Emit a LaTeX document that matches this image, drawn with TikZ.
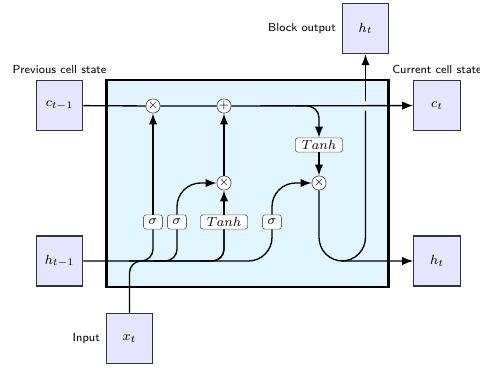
\documentclass[tikz,border=0pt]{standalone}
\usetikzlibrary{arrows.meta}
\begin{document}
\begin{tikzpicture}[x=0.02114cm, y=-0.02114cm,
  >=Latex,
  font=\footnotesize,
  cellbox/.style={rectangle, draw=black, line width=1.3pt, fill=cyan!12},
  op/.style={circle, draw=black!70, fill=white, inner sep=0pt, minimum size=0.3cm, font=\scriptsize},
  gatebox/.style={rectangle, rounded corners=1.5pt, draw=black!60, fill=white, minimum width=4mm, minimum height=3mm, inner sep=1pt},
  iobox/.style={rectangle, draw=black!80, line width=0.75pt, fill=blue!10, minimum width=0.98cm, minimum height=1.06cm, inner sep=1pt},
  lab/.style={font=\scriptsize\sffamily},
  wire/.style={thick, rounded corners=0.25cm},
  bigwire/.style={thick, rounded corners=0.5cm},
]
\useasboundingbox (0,0) rectangle (480,371);

\node[cellbox, minimum width=5.96cm, minimum height=4.36cm] (cell) at (247.5,183.5) {};

\node[gatebox] (ib1) at (153,222) {$\sigma$};
\node[gatebox] (ib2) at (177,222) {$\sigma$};
\node[gatebox, minimum width=1cm] (ib3) at (224,222) {$Tanh$};
\node[gatebox] (ib4) at (272,222) {$\sigma$};

\node[op] (mux1) at (153,106) {$\times$};
\node[op] (add1) at (224,106) {$+$};
\node[op] (mux2) at (224,183) {$\times$};
\node[op] (mux3) at (319,183) {$\times$};
\node[gatebox, minimum width=1cm] (fn1) at (319,145) {$Tanh$};

\node[iobox, label={[lab]above:Previous cell state}] (c) at (59.5,105.5) {$c_{t-1}$};
\node[iobox] (h) at (59.5,261) {$h_{t-1}$};
\node[iobox, label={[lab]left:Input}] (x) at (129.5,338.5) {$x_t$};
\node[iobox, label={[lab]above:Current cell state}] (c2) at (437,105.5) {$c_t$};
\node[iobox] (h2) at (437,261) {$h_t$};
\node[iobox, label={[lab]left:Block output}] (x2) at (365.5,28.5) {$h_t$};

\draw[->, thick] (c) -- (mux1) -- (add1) -- (c2);

\draw[bigwire] (h) -| (ib4);
\draw[wire] (h -| ib1) ++(-24,0) -| (ib1);
\draw[wire] (h -| ib2) ++(-24,0) -| (ib2);
\draw[wire] (h -| ib3) ++(-24,0) -| (ib3);
\draw[wire] (x) -- (x |- h) -| (ib3);

\draw[->, bigwire] (ib1) -- (mux1);
\draw[->, bigwire] (ib2) |- (mux2);
\draw[->, bigwire] (ib3) -- (mux2);
\draw[->, bigwire] (ib4) |- (mux3);
\draw[->, bigwire] (mux2) -- (add1);
\draw[->, wire] (add1 -| fn1) ++(-24,0) -| (fn1);
\draw[->, bigwire] (fn1) -- (mux3);

\draw[->, bigwire] (mux3) |- (h2);
\path (c2 -| x2) ++(0,5) coordinate (i1);
\path (c2 -| x2) ++(0,-5) coordinate (i2);
\path (h2 -| x2) ++(-24,0) coordinate (o1);
\draw[bigwire] (o1) -| (i1);
\draw[->, thick] (i2) -- (x2);
\end{tikzpicture}
\end{document}
